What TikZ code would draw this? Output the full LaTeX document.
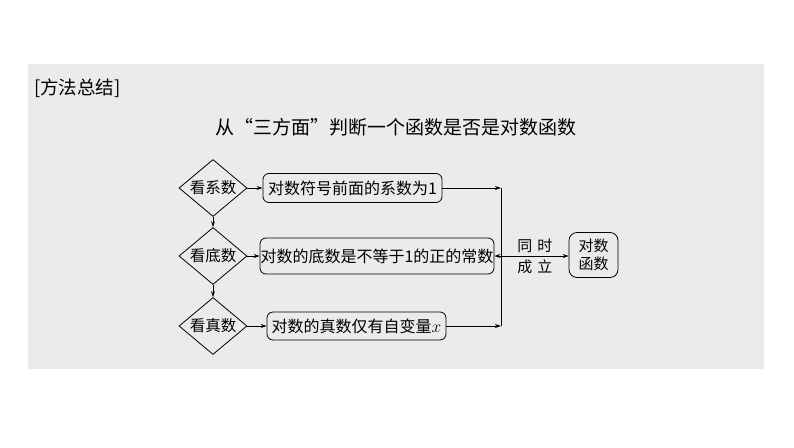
\documentclass[tikz,border=0pt]{standalone}
\usepackage{fontspec}
\setmainfont{Noto Sans CJK SC}
\usetikzlibrary{shapes.geometric,arrows.meta}
\definecolor{bg}{RGB}{235,235,235}
\begin{document}
\begin{tikzpicture}[x=1pt,y=-1pt,
  dia/.style={diamond,draw,line width=0.8pt,inner sep=0pt,minimum width=68pt,minimum height=57pt,aspect=1.19,font=\fontsize{15.5}{18}\selectfont},
  rbox/.style={draw,rounded corners=6pt,line width=0.8pt,inner sep=0pt,font=\fontsize{16}{18}\selectfont,minimum height=29pt},
  arr/.style={-{Stealth[length=6pt,width=4pt]},line width=0.8pt},
  ln/.style={line width=0.8pt}]
\useasboundingbox (0,0) rectangle (794,447);
\fill[white] (0,0) rectangle (794,447);
\fill[bg] (28,64) rectangle (764,369);
\node[anchor=west,inner sep=0pt,font=\fontsize{18.5}{22}\selectfont] (head) at (34,88) {[方法总结]};
\node[inner sep=0pt,font=\fontsize{19}{22}\selectfont] (title) at (396,127) {从“三方面”判断一个函数是否是对数函数};
\node[dia] (d1) at (213,188) {看系数};
\node[dia] (d2) at (213,256) {看底数};
\node[dia] (d3) at (213,326) {看真数};
\node[rbox,minimum width=179pt] (b1) at (352.5,188) {对数符号前面的系数为1};
\node[rbox,minimum width=234pt,minimum height=36pt] (b2) at (377,256) {对数的底数是不等于1的正的常数};
\node[rbox,minimum width=179pt,minimum height=28pt] (b3) at (356.5,326) {对数的真数仅有自变量$x$};
\coordinate (j1) at (501,188);
\coordinate (j2) at (501,256);
\coordinate (j3) at (501,326);
\node[rbox,minimum width=49pt,minimum height=45pt,align=center,rounded corners=8pt,font=\fontsize{15}{18}\selectfont] (res) at (593.5,255) {对数\\函数};
\draw[arr] (d1.south)--(d2.north);
\draw[arr] (d2.south)--(d3.north);
\draw[arr] (d1.east)--(b1.west);
\draw[arr] (d2.east)--(b2.west);
\draw[arr] (d3.east)--(b3.west);
\draw[arr] (b1.east)--(j1);
\draw[arr] (b3.east)--(j3);
\draw[ln] (j1)--(j3);
\draw[arr] (j2)--(b2.east);
\draw[arr] (j2)--(res.west |- j2)
  node[midway,above=3pt,inner sep=0pt,font=\fontsize{15}{18}\selectfont] (l1) {同\hspace{5pt}时}
  node[midway,below=3pt,inner sep=0pt,font=\fontsize{15}{18}\selectfont] (l2) {成\hspace{5pt}立};
\end{tikzpicture}
\end{document}
